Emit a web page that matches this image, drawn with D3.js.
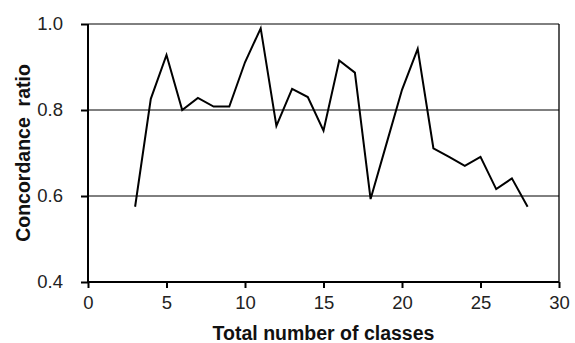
<!DOCTYPE html>
<html>
<head>
<meta charset="utf-8">
<script src="https://cdn.jsdelivr.net/npm/d3@7"></script>
<style>
  body { margin: 0; background: #fff; }
  text { font-family: "Liberation Sans", Arial, sans-serif; }
</style>
</head>
<body>
<div class="container"></div>
<script>
// data
const classes = [3, 4, 5, 6, 7, 8, 9, 10, 11, 12, 13, 14, 15, 16, 17, 18, 19, 20, 21, 22, 23, 24, 25, 26, 27, 28]
const ratio = [0.575, 0.826, 0.928, 0.800, 0.828, 0.808, 0.808, 0.911, 0.990, 0.763, 0.849, 0.830, 0.752, 0.915, 0.887, 0.593, 0.720, 0.847, 0.942, 0.711, 0.691, 0.670, 0.691, 0.616, 0.641, 0.575]
const xTicks = [0, 5, 10, 15, 20, 25, 30]
const yTicks = [0.4, 0.6, 0.8, 1.0]

const width = 575
const height = 343
const margin = { top: 24, right: 16, bottom: 61, left: 88 }

const svg = d3.select(".container").append("svg").attr("width", width).attr("height", height)

const x = d3.scaleLinear().domain([0, 30]).range([margin.left, width - margin.right])
const y = d3.scaleLinear().domain([0.4, 1.0]).range([height - margin.bottom, margin.top])

// gridlines
svg.append("g").selectAll("line").data(yTicks.filter(d => d > 0.4))
  .join("line")
  .attr("x1", x(0)).attr("x2", x(30))
  .attr("y1", d => y(d)).attr("y2", d => y(d))
  .attr("stroke", "#000").attr("stroke-width", 1)

// right border
svg.append("line")
  .attr("x1", x(30)).attr("x2", x(30))
  .attr("y1", y(1.0)).attr("y2", y(0.4))
  .attr("stroke", "#000").attr("stroke-width", 1.3)

// axes
const xAxis = d3.axisBottom(x).tickValues(xTicks).tickSize(6).tickPadding(8).tickFormat(d3.format("d"))
const yAxis = d3.axisLeft(y).tickValues(yTicks).tickSize(7).tickPadding(18).tickFormat(d3.format(".1f"))

const gx = svg.append("g").attr("transform", `translate(0,${y(0.4)})`).call(xAxis)
const gy = svg.append("g").attr("transform", `translate(${x(0)},0)`).call(yAxis)

;[gx, gy].forEach(g => {
  g.select(".domain").attr("stroke", "#000").attr("stroke-width", 2)
  g.selectAll(".tick line").attr("stroke", "#000").attr("stroke-width", 2)
  g.selectAll(".tick text").attr("fill", "#222").style("font-size", "18.5px")
    .style("font-family", "'Liberation Sans', Arial, sans-serif")
})
gy.select(".domain").attr("d", `M0,${y(1.0)}V${y(0.4)}`)
gx.select(".domain").attr("d", `M${x(0)},0H${x(30)}`)

// line
const line = d3.line().x((d, i) => x(classes[i])).y(d => y(d))
svg.append("path")
  .datum(ratio)
  .attr("d", line)
  .attr("fill", "none")
  .attr("stroke", "#000")
  .attr("stroke-width", 2)
  .attr("stroke-linejoin", "miter")

// axis titles
svg.append("text")
  .attr("x", (x(0) + x(30)) / 2)
  .attr("y", 340)
  .attr("text-anchor", "middle")
  .attr("fill", "#111")
  .style("font-weight", 700)
  .style("font-size", "19.5px")
  .text("Total number of classes")

svg.append("text")
  .attr("transform", `translate(30,${(y(0.4) + y(1.0)) / 2}) rotate(-90)`)
  .attr("text-anchor", "middle")
  .attr("fill", "#111")
  .style("font-weight", 700)
  .style("font-size", "19.5px")
  .style("white-space", "pre")
  .text("Concordance  ratio")
</script>
</body>
</html>
